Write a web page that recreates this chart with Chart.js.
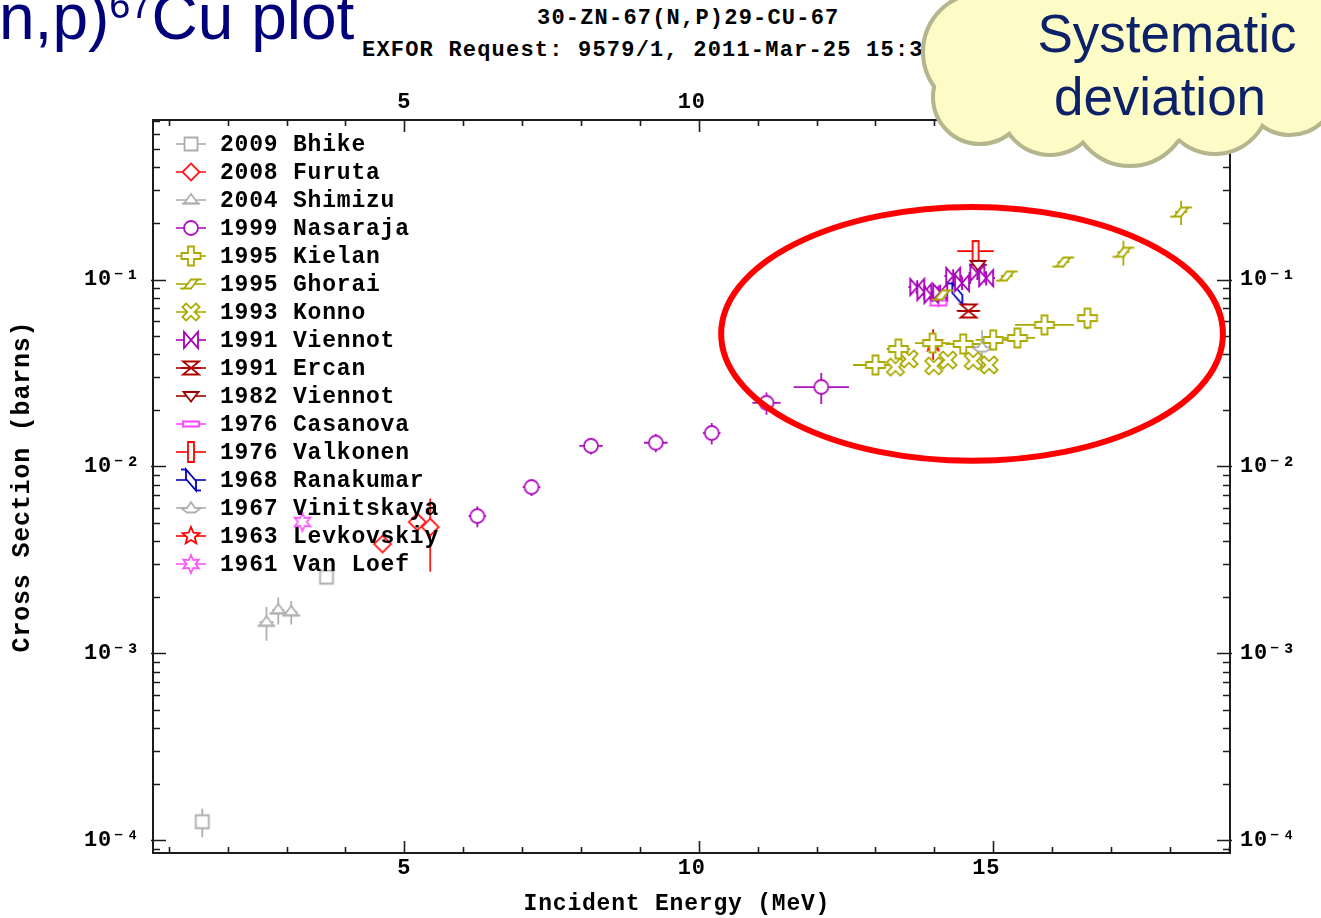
<!DOCTYPE html>
<html>
<head>
<meta charset="utf-8">
<script src="https://cdn.jsdelivr.net/npm/chart.js@4.4.1/dist/chart.umd.min.js"></script>
<style>
  html, body { margin:0; padding:0; background:#fff; }
  #wrap { position:relative; width:1321px; height:918px; overflow:hidden; background:#fff; }
  #c { position:absolute; left:0; top:0; z-index:1; }
  .hdr { position:absolute; z-index:0; font-family:'Liberation Mono','DejaVu Sans Mono',monospace; font-weight:bold; font-size:22px; line-height:22px; letter-spacing:1.2px; color:#000; white-space:nowrap; }
  #title { position:absolute; z-index:2; left:-1px; top:-15px; font-family:'Liberation Sans',Arial,sans-serif; font-size:64px; line-height:64px; color:#00007a; white-space:nowrap; }
  #title .sup { font-size:38px; position:relative; top:-21px; }
  .cloudtxt { position:absolute; z-index:2; width:400px; text-align:center; font-family:'Liberation Sans',Arial,sans-serif; font-size:53px; line-height:53px; color:#0c2167; white-space:nowrap; }
</style>
</head>
<body>
<div id="wrap">
  <div class="hdr" style="left:537px; top:8px;">30-ZN-67(N,P)29-CU-67</div>
  <div class="hdr" style="left:362px; top:40px;">EXFOR Request: 9579/1, 2011-Mar-25 15:38</div>
  <canvas id="c" width="1321" height="918"></canvas>
  <div id="title">n,p)<span class="sup">67</span>Cu plot</div>
  <div class="cloudtxt" style="left:967px; top:7px;">Systematic</div>
  <div class="cloudtxt" style="left:960px; top:70px;">deviation</div>
</div>
<script>
// ---------------- axis ranges & ticks ----------------
const xMin = 0.733, xMax = 19.02;
const yMin = 8.57e-5, yMax = 0.713;
const xMinorTicks = [1,2,3,4,5,6,7,8,9,10,11,12,13,14,15,16,17,18,19];
const xMajorTicks = [5, 10, 15];
const xTickLabels = ['5', '10 ', '15 '];
const yMajorTicks = [1e-4, 1e-3, 1e-2, 1e-1];
const yTickLabels = ['10\u207B\u2074', '10\u207B\u00B3', '10\u207B\u00B2', '10\u207B\u00B9'];
const yMinorMult = [2,3,4,5,6,7,8,9];

// ---------------- series meta ----------------
const seriesLabels = ['2009 Bhike','2008 Furuta','2004 Shimizu','1999 Nasaraja','1995 Kielan','1995 Ghorai',
  '1993 Konno','1991 Viennot','1991 Ercan','1982 Viennot','1976 Casanova','1976 Valkonen',
  '1968 Ranakumar','1967 Vinitskaya','1963 Levkovskiy','1961 Van Loef'];
const seriesColors = ['#adadad','#ff1a1a','#b0b0b0','#b012c0','#aaaa00','#aaaa00',
  '#aaaa00','#a800b8','#b00000','#a00000','#ff44ff','#ff0000',
  '#0000c0','#b0b0b0','#ff0000','#ff55ff'];
const seriesShapes = ['square','diamond','triangle','circle','plus','ghorai',
  'xcross','bowtie','hourglass','downtri','hrect','vrect',
  'ranak','vinit','star5','star6'];

// ---------------- data (E in MeV, cross section in barns) ----------------
const bhikeE   = [1.57, 3.68];
const bhikeXS  = [1.26e-4, 2.56e-3];
const bhikeDE  = [0, 0];
const bhikeDXS = [0.22e-4, 0.2e-3];

const furutaE   = [4.63, 5.22, 5.44];
const furutaXS  = [3.85e-3, 5.05e-3, 4.74e-3];
const furutaDE  = [0, 0, 0];
const furutaDXS = [0.2e-3, 0.4e-3, 2.0e-3];

const shimizuE   = [2.66, 2.86, 3.08];
const shimizuXS  = [1.47e-3, 1.71e-3, 1.67e-3];
const shimizuDE  = [0.12, 0.1, 0.1];
const shimizuDXS = [0.3e-3, 0.28e-3, 0.24e-3];

const nasarajaE   = [6.24, 7.16, 8.17, 9.27, 10.22, 11.15, 12.08];
const nasarajaXS  = [5.43e-3, 7.76e-3, 0.0129, 0.0134, 0.0151, 0.0219, 0.0266];
const nasarajaDE  = [0.15, 0.15, 0.2, 0.2, 0.15, 0.24, 0.47];
const nasarajaDXS = [0.7e-3, 0.8e-3, 0.0013, 0.0015, 0.002, 0.003, 0.005];

const kielanE   = [13.0, 13.39, 13.97, 14.49, 15.0, 15.41, 15.87, 16.6];
const kielanXS  = [0.0349, 0.0425, 0.0457, 0.0452, 0.0475, 0.0487, 0.0572, 0.0622];
const kielanDE  = [0.38, 0.2, 0.3, 0.3, 0.3, 0.3, 0.5, 0.15];
const kielanDXS = [0.003, 0.003, 0.003, 0.003, 0.003, 0.003, 0.005, 0.008];

const ghoraiE   = [14.13, 15.23, 16.19, 17.21, 18.19];
const ghoraiXS  = [0.0826, 0.1044, 0.124, 0.140, 0.2296];
const ghoraiDE  = [0.1, 0.1, 0.1, 0.1, 0.1];
const ghoraiDXS = [0.005, 0.006, 0.008, 0.021, 0.034];

const konnoE   = [13.34, 13.57, 13.99, 14.23, 14.66, 14.93];
const konnoXS  = [0.0340, 0.0376, 0.0345, 0.0371, 0.0367, 0.0349];
const konnoDE  = [0, 0, 0, 0, 0, 0];
const konnoDXS = [0.002, 0.002, 0.002, 0.002, 0.002, 0.002];

const viennot91E   = [13.71, 13.83, 13.95, 14.10, 14.32, 14.47, 14.73, 14.88];
const viennot91XS  = [0.0912, 0.0858, 0.0826, 0.0858, 0.1045, 0.0958, 0.1084, 0.1018];
const viennot91DE  = [0.15, 0.15, 0.15, 0.15, 0.15, 0.15, 0.15, 0.15];
const viennot91DXS = [0.008, 0.008, 0.008, 0.008, 0.009, 0.008, 0.009, 0.009];

const ercanE   = [14.58];
const ercanXS  = [0.0679];
const ercanDE  = [0.2];
const ercanDXS = [0.004];

const viennot82E   = [14.74];
const viennot82XS  = [0.1197];
const viennot82DE  = [0.15];
const viennot82DXS = [0.012];

const casanovaE   = [14.07];
const casanovaXS  = [0.0749];
const casanovaDE  = [0];
const casanovaDXS = [0.004];

const valkonenE   = [14.7];
const valkonenXS  = [0.142];
const valkonenDE  = [0.31];
const valkonenDXS = [0.012];

const ranakumarE   = [14.39];
const ranakumarXS  = [0.0837];
const ranakumarDE  = [0];
const ranakumarDXS = [0];

const vinitskayaE   = [14.81];
const vinitskayaXS  = [0.0435];
const vinitskayaDE  = [0];
const vinitskayaDXS = [0.01];

const levkovskiyE   = [13.98];
const levkovskiyXS  = [0.0457];
const levkovskiyDE  = [0];
const levkovskiyDXS = [0.0085];

const vanloefE   = [3.27];
const vanloefXS  = [5.05e-3];
const vanloefDE  = [0];
const vanloefDXS = [0.2e-3];

const seriesData = [
  [bhikeE, bhikeXS, bhikeDE, bhikeDXS],
  [furutaE, furutaXS, furutaDE, furutaDXS],
  [shimizuE, shimizuXS, shimizuDE, shimizuDXS],
  [nasarajaE, nasarajaXS, nasarajaDE, nasarajaDXS],
  [kielanE, kielanXS, kielanDE, kielanDXS],
  [ghoraiE, ghoraiXS, ghoraiDE, ghoraiDXS],
  [konnoE, konnoXS, konnoDE, konnoDXS],
  [viennot91E, viennot91XS, viennot91DE, viennot91DXS],
  [ercanE, ercanXS, ercanDE, ercanDXS],
  [viennot82E, viennot82XS, viennot82DE, viennot82DXS],
  [casanovaE, casanovaXS, casanovaDE, casanovaDXS],
  [valkonenE, valkonenXS, valkonenDE, valkonenDXS],
  [ranakumarE, ranakumarXS, ranakumarDE, ranakumarDXS],
  [vinitskayaE, vinitskayaXS, vinitskayaDE, vinitskayaDXS],
  [levkovskiyE, levkovskiyXS, levkovskiyDE, levkovskiyDXS],
  [vanloefE, vanloefXS, vanloefDE, vanloefDXS]
];

// highlighted region (ellipse) in data units
const ellipseCenterE = 14.64, ellipseHalfWidthE = 4.26;
const ellipseCenterXS = 0.0512, ellipseHalfDecades = 0.679;

// ---------------- marker glyphs ----------------
const MONO = "'Liberation Mono','DejaVu Sans Mono',monospace";
function poly(g, pts) { g.moveTo(pts[0][0], pts[0][1]); for (let i = 1; i < pts.length; i++) g.lineTo(pts[i][0], pts[i][1]); g.closePath(); }
function starPts(n, ro, ri) { const p = []; for (let i = 0; i < 2*n; i++) { const r = i % 2 ? ri : ro; const a = -Math.PI/2 + i*Math.PI/n; p.push([r*Math.cos(a), r*Math.sin(a)]); } return p; }
function makeMarker(shape, color) {
  const c = document.createElement('canvas'); c.width = 28; c.height = 28;
  const g = c.getContext('2d');
  g.translate(14, 14);
  g.lineWidth = 1.8; g.strokeStyle = color; g.fillStyle = '#fff'; g.lineJoin = 'miter';
  g.beginPath();
  const extra = [];
  switch (shape) {
    case 'square': g.rect(-6.5, -6.5, 13, 13); break;
    case 'diamond': poly(g, [[0,-8.5],[8.5,0],[0,8.5],[-8.5,0]]); break;
    case 'triangle': poly(g, [[0,-6],[7,3.5],[-7,3.5]]); extra.push([-9,3.5,9,3.5]); break;
    case 'circle': g.arc(0, 0, 7, 0, Math.PI*2); break;
    case 'plus': poly(g, [[-3,-9.5],[3,-9.5],[3,-3],[9.5,-3],[9.5,3],[3,3],[3,9.5],[-3,9.5],[-3,3],[-9.5,3],[-9.5,-3],[-3,-3]]); break;
    case 'xcross': {
      const b = [[-2.6,-9.5],[2.6,-9.5],[2.6,-2.6],[9.5,-2.6],[9.5,2.6],[2.6,2.6],[2.6,9.5],[-2.6,9.5],[-2.6,2.6],[-9.5,2.6],[-9.5,-2.6],[-2.6,-2.6]];
      const ca = Math.cos(Math.PI/4), sa = Math.sin(Math.PI/4);
      poly(g, b.map(p => [p[0]*ca - p[1]*sa, p[0]*sa + p[1]*ca]));
      break;
    }
    case 'ghorai': poly(g, [[-7,4.5],[0,4.5],[7,-4.5],[0,-4.5]]); extra.push([-11,4.5,-7,4.5]); extra.push([7,-4.5,11,-4.5]); break;
    case 'bowtie': poly(g, [[-7,-8],[-7,8],[7,-8],[7,8]]); break;
    case 'hourglass': poly(g, [[-8,-6.5],[8,-6.5],[-8,6.5],[8,6.5]]); extra.push([-10,0,10,0]); break;
    case 'downtri': poly(g, [[-7.5,-4],[7.5,-4],[0,5.5]]); break;
    case 'hrect': g.rect(-8, -2.5, 16, 5); break;
    case 'vrect': g.rect(-3, -10, 6, 20); break;
    case 'ranak': poly(g, [[-5,-10.5],[-5,-1],[5,10.5],[5,1]]); extra.push([-10,-10.5,-5,-10.5]); extra.push([5,10.5,10,10.5]); break;
    case 'vinit': poly(g, [[-10,0],[-4,0],[0,-6],[4,0],[10,0],[4,4.5],[-4,4.5]]); break;
    case 'star5': poly(g, starPts(5, 9, 4)); break;
    case 'star6': poly(g, starPts(6, 9, 4.5)); break;
  }
  g.fill(); g.stroke();
  extra.forEach(l => { g.beginPath(); g.moveTo(l[0], l[1]); g.lineTo(l[2], l[3]); g.stroke(); });
  return c;
}
const markers = seriesShapes.map((s, i) => makeMarker(s, seriesColors[i]));

// ---------------- datasets ----------------
const datasets = seriesLabels.map((lab, i) => {
  const [E, XS, DE, DXS] = seriesData[i];
  return {
    label: lab,
    data: E.map((e, k) => ({ x: e, y: XS[k] })),
    errX: DE, errY: DXS,
    pointStyle: markers[i],
    pointRadius: 8,
    borderColor: seriesColors[i],
    backgroundColor: '#fff',
    showLine: false,
    xAxisID: 'x', yAxisID: 'y'
  };
});

function supLabel(value) {
  for (let i = 0; i < yMajorTicks.length; i++) if (Math.abs(value / yMajorTicks[i] - 1) < 1e-6) return yTickLabels[i];
  return '';
}
function xLabel(value) {
  const i = xMajorTicks.indexOf(value);
  return i >= 0 ? xTickLabels[i] : '';
}
function logTickValues() {
  const out = [];
  yMajorTicks.concat([1e-5]).sort((a,b)=>a-b).forEach(d => {
    out.push(d);
    yMinorMult.forEach(m => out.push(m * d));
  });
  return out.filter(v => v >= yMin && v <= yMax);
}

const tickFont = { family: MONO, size: 22, weight: 'bold' };
const xTitleFont = { family: MONO, size: 23, weight: 'bold' };
const yTitleFont = { family: MONO, size: 25, weight: 'bold' };

const overlayPlugin = {
  id: 'overlay',
  beforeDraw(chart) { chart.ctx.letterSpacing = '0.8px'; },
  beforeDatasetsDraw(chart) {
    const ctx = chart.ctx, xs = chart.scales.x, ys = chart.scales.y, a = chart.chartArea;
    ctx.save();
    ctx.beginPath(); ctx.rect(a.left, a.top, a.right - a.left, a.bottom - a.top); ctx.clip();
    ctx.lineWidth = 1.8;
    chart.data.datasets.forEach(ds => {
      ctx.strokeStyle = ds.borderColor;
      ds.data.forEach((p, k) => {
        const px = xs.getPixelForValue(p.x), py = ys.getPixelForValue(p.y);
        const dx = ds.errX[k], dy = ds.errY[k];
        ctx.beginPath();
        if (dx > 0) { ctx.moveTo(xs.getPixelForValue(p.x - dx), py); ctx.lineTo(xs.getPixelForValue(p.x + dx), py); }
        if (dy > 0) {
          const lo = Math.max(p.y - dy, yMin * 0.5);
          ctx.moveTo(px, ys.getPixelForValue(lo)); ctx.lineTo(px, ys.getPixelForValue(p.y + dy));
        }
        ctx.stroke();
      });
    });
    ctx.restore();
  },
  afterDatasetsDraw(chart) {
    const ctx = chart.ctx, a = chart.chartArea;
    ctx.save();
    ctx.font = 'bold 23px ' + MONO;
    ctx.letterSpacing = '0.8px';
    ctx.textBaseline = 'middle';
    ctx.fillStyle = '#000';
    chart.data.datasets.forEach((ds, i) => {
      const y = a.top + 24 + i * 28;
      const x0 = a.left + 23;
      ctx.strokeStyle = ds.borderColor; ctx.lineWidth = 1.6;
      ctx.beginPath(); ctx.moveTo(x0, y); ctx.lineTo(x0 + 30, y); ctx.stroke();
      const m = ds.pointStyle;
      ctx.drawImage(m, x0 + 15 - m.width / 2, y - m.height / 2);
      ctx.fillText(ds.label, a.left + 67, y + 1);
    });
    ctx.restore();
  },
  afterDraw(chart) {
    const ctx = chart.ctx, a = chart.chartArea, xs = chart.scales.x, ys = chart.scales.y;
    ctx.save();
    ctx.strokeStyle = '#1c1c1c'; ctx.lineWidth = 2;
    ctx.strokeRect(a.left, a.top, a.right - a.left, a.bottom - a.top);
    ctx.lineWidth = 1.6;
    ctx.beginPath();
    xMinorTicks.forEach(v => {
      const px = Math.round(xs.getPixelForValue(v)) + 0.5;
      const len = xMajorTicks.includes(v) ? 12 : 6;
      ctx.moveTo(px, a.bottom); ctx.lineTo(px, a.bottom - len);
      ctx.moveTo(px, a.top); ctx.lineTo(px, a.top + len);
    });
    logTickValues().forEach(v => {
      const py = Math.round(ys.getPixelForValue(v)) + 0.5;
      const major = supLabel(v) !== '';
      const len = major ? 13 : 7;
      ctx.moveTo(a.left - (major ? 2 : 0), py); ctx.lineTo(a.left + len, py);
      ctx.moveTo(a.right + (major ? 2 : 0), py); ctx.lineTo(a.right - len, py);
    });
    ctx.stroke();
    const cx = xs.getPixelForValue(ellipseCenterE);
    const rx = xs.getPixelForValue(ellipseCenterE + ellipseHalfWidthE) - cx;
    const cy = ys.getPixelForValue(ellipseCenterXS);
    const ry = cy - ys.getPixelForValue(ellipseCenterXS * Math.pow(10, ellipseHalfDecades));
    ctx.strokeStyle = '#ff0000'; ctx.lineWidth = 6;
    ctx.beginPath(); ctx.ellipse(cx, cy, rx, ry, 0, 0, Math.PI * 2); ctx.stroke();
    const circles = [[982,52,57],[980,97,45],[1050,105,48],[1130,107,57],[1215,100,52],[1290,88,45],[1130,40,110],[1280,30,65],[1040,20,60]];
    ctx.strokeStyle = '#b5b58e'; ctx.lineWidth = 8;
    circles.forEach(c => { ctx.beginPath(); ctx.arc(c[0], c[1], c[2], 0, Math.PI*2); ctx.stroke(); });
    ctx.fillStyle = '#fdfcc6';
    circles.forEach(c => { ctx.beginPath(); ctx.arc(c[0], c[1], c[2], 0, Math.PI*2); ctx.fill(); });
    ctx.restore();
  }
};

new Chart(document.getElementById('c'), {
  type: 'scatter',
  data: { datasets },
  options: {
    responsive: false, animation: false, devicePixelRatio: 1,
    layout: { padding: 0 },
    plugins: { legend: { display: false }, tooltip: { enabled: false } },
    scales: {
      x: {
        type: 'linear', position: 'bottom', min: xMin, max: xMax,
        grid: { display: false, drawTicks: false }, border: { display: false },
        afterBuildTicks: s => { s.ticks = xMinorTicks.map(v => ({ value: v })); },
        afterFit: s => { s.height = 65; },
        ticks: { autoSkip: false, maxRotation: 0, minRotation: 0, padding: 2, font: tickFont, color: '#000', callback: v => xLabel(v) },
        title: { display: true, text: 'Incident Energy (MeV)  ', font: xTitleFont, color: '#000', padding: { top: 0, bottom: 0 } }
      },
      x2: {
        type: 'linear', position: 'top', min: xMin, max: xMax,
        grid: { display: false, drawTicks: false }, border: { display: false },
        afterBuildTicks: s => { s.ticks = xMinorTicks.map(v => ({ value: v })); },
        afterFit: s => { s.height = 120; },
        ticks: { autoSkip: false, maxRotation: 0, minRotation: 0, padding: 4, font: tickFont, color: '#000', callback: v => xLabel(v) }
      },
      y: {
        type: 'logarithmic', position: 'left', min: yMin, max: yMax,
        grid: { display: false, drawTicks: false }, border: { display: false },
        afterBuildTicks: s => { s.ticks = logTickValues().map(v => ({ value: v })); },
        afterFit: s => { s.width = 153; },
        ticks: { autoSkip: false, padding: 13, font: tickFont, color: '#000', callback: v => supLabel(v) },
        title: { display: true, text: 'Cross Section (barns)', font: yTitleFont, color: '#000', padding: { top: 8, bottom: 0 } }
      },
      y2: {
        type: 'logarithmic', position: 'right', min: yMin, max: yMax,
        grid: { display: false, drawTicks: false }, border: { display: false },
        afterBuildTicks: s => { s.ticks = logTickValues().map(v => ({ value: v })); },
        afterFit: s => { s.width = 91; },
        ticks: { autoSkip: false, padding: 10, font: tickFont, color: '#000', callback: v => supLabel(v) }
      }
    }
  },
  plugins: [overlayPlugin]
});
</script>
</body>
</html>
